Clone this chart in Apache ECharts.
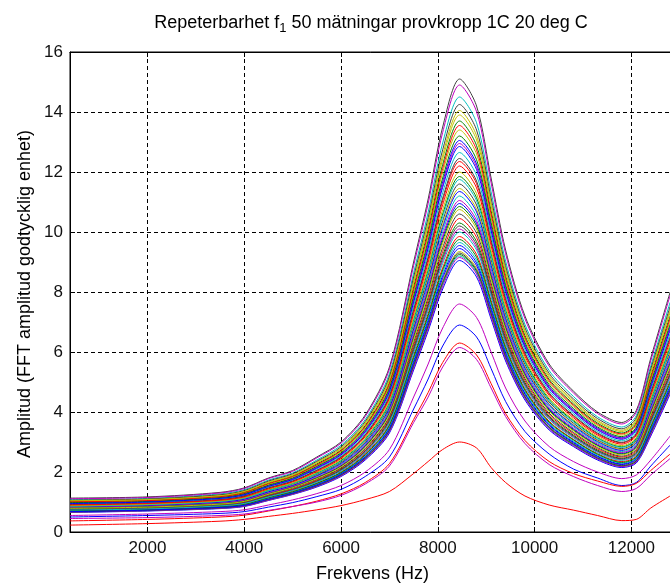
<!DOCTYPE html>
<html>
<head>
<meta charset="utf-8">
<script src="https://cdn.jsdelivr.net/npm/echarts@6/dist/echarts.min.js"></script>
<style>
  html, body { margin: 0; padding: 0; background: #fff; }
  #chart { width: 670px; height: 583px; }
</style>
</head>
<body>
<div id="chart"></div>
<script>
const freq = [400, 2000, 3500, 4000, 4500, 5000, 5500, 6000, 6500, 7000, 7500, 7800, 8100, 8450, 8800, 9100, 9400, 9800, 10300, 10800, 11300, 11800, 12100, 12400, 12800];

// 50 measurements, in plotting order (colour follows the MATLAB colour order)
const m01 = [0.97,1.01,1.14,1.26,1.55,1.78,2.16,2.61,3.39,4.75,7.78,9.61,11.67,13.05,12.27,10.21,8.15,6.25,4.85,4.07,3.46,3.14,3.46,4.92,6.85];
const m02 = [0.87,0.92,1.03,1.14,1.40,1.62,1.96,2.38,3.09,4.32,7.07,8.74,10.60,11.85,11.14,9.28,7.41,5.70,4.42,3.71,3.14,2.84,3.11,4.40,6.17];
const m03 = [0.23,0.28,0.36,0.42,0.52,0.62,0.74,0.88,1.08,1.35,1.95,2.35,2.75,3.0,2.8,2.15,1.65,1.2,0.9,0.73,0.55,0.38,0.42,0.8,1.2];
const m04 = [0.82,0.87,0.97,1.07,1.32,1.53,1.86,2.26,2.93,4.08,6.68,8.26,10.02,11.2,10.52,8.77,7.01,5.39,4.18,3.51,2.97,2.68,2.92,4.12,5.81];
const m05 = [0.96,1.00,1.13,1.25,1.53,1.77,2.15,2.59,3.37,4.72,7.72,9.54,11.58,12.95,12.18,10.13,8.09,6.21,4.82,4.04,3.43,3.12,3.43,4.88,6.79];
const m06 = [1.00,1.04,1.17,1.30,1.59,1.83,2.22,2.68,3.48,4.88,7.99,9.86,11.98,13.4,12.60,10.48,8.36,6.41,4.98,4.18,3.55,3.23,3.56,5.07,7.04];
const m07 = [0.85,0.90,1.01,1.11,1.37,1.59,1.92,2.33,3.03,4.23,6.92,8.55,10.37,11.6,10.90,9.08,7.26,5.58,4.33,3.63,3.07,2.78,3.04,4.30,6.03];
const m08 = [0.69,0.74,0.83,0.90,1.11,1.32,1.58,1.95,2.52,3.48,5.70,7.07,8.55,9.55,8.97,7.49,6.01,4.63,3.58,3.00,2.53,2.27,2.45,3.42,4.88];
const m09 = [1.02,1.06,1.20,1.33,1.63,1.87,2.27,2.73,3.55,4.99,8.17,10.08,12.25,13.7,12.88,10.71,8.55,6.55,5.09,4.27,3.63,3.30,3.65,5.20,7.21];
const m10 = [0.91,0.96,1.07,1.19,1.46,1.69,2.05,2.48,3.22,4.50,7.36,9.10,11.04,12.35,11.61,9.66,7.72,5.93,4.60,3.86,3.27,2.97,3.25,4.62,6.45];
const m11 = [1.08,1.12,1.27,1.41,1.73,1.97,2.40,2.89,3.75,5.28,8.64,10.66,12.97,14.5,13.64,11.34,9.03,6.92,5.38,4.52,3.84,3.5,3.88,5.54,7.66];
const m12 = [0.55,0.6,0.68,0.74,0.9,1.07,1.28,1.55,2.0,2.75,4.5,5.6,6.8,7.6,7.15,6.0,4.8,3.7,2.85,2.35,2.0,1.78,1.9,2.4,3.2];
const m13 = [0.84,0.89,0.99,1.10,1.35,1.57,1.90,2.31,3.00,4.17,6.83,8.45,10.24,11.45,10.76,8.97,7.17,5.51,4.27,3.58,3.04,2.75,3.00,4.23,5.95];
const m14 = [1.13,1.17,1.32,1.47,1.8,2.05,2.5,3.0,3.9,5.5,9.0,11.1,13.5,15.1,14.2,11.8,9.4,7.2,5.6,4.7,4.0,3.65,4.05,5.8,8.0];
const m15 = [0.83,0.88,0.99,1.09,1.34,1.55,1.88,2.29,2.97,4.14,6.77,8.37,10.15,11.35,10.67,8.89,7.11,5.46,4.24,3.55,3.01,2.72,2.97,4.19,5.89];
const m16 = [0.75,0.80,0.89,0.98,1.21,1.42,1.71,2.09,2.71,3.76,6.15,7.61,9.22,10.3,9.68,8.07,6.47,4.98,3.86,3.23,2.73,2.46,2.66,3.74,5.30];
const m17 = [0.76,0.81,0.91,0.99,1.22,1.43,1.73,2.12,2.75,3.81,6.23,7.72,9.35,10.45,9.82,8.19,6.55,5.05,3.91,3.28,2.77,2.50,2.70,3.80,5.39];
const m18 = [0.70,0.75,0.83,0.91,1.12,1.33,1.60,1.96,2.55,3.52,5.76,7.14,8.64,9.65,9.06,7.57,6.07,4.68,3.62,3.03,2.56,2.30,2.47,3.46,4.94];
const m19 = [1.11,1.15,1.30,1.45,1.78,2.02,2.47,2.96,3.85,5.43,8.88,10.95,13.32,14.9,14.01,11.64,9.28,7.11,5.53,4.64,3.95,3.6,3.99,5.71,7.89];
const m20 = [1.05,1.09,1.23,1.36,1.67,1.91,2.33,2.80,3.64,5.12,8.37,10.33,12.56,14.05,13.21,10.98,8.76,6.71,5.22,4.38,3.72,3.39,3.75,5.35,7.41];
const m21 = [0.77,0.82,0.92,1.01,1.24,1.46,1.76,2.14,2.78,3.86,6.32,7.83,9.48,10.6,9.96,8.30,6.65,5.12,3.96,3.32,2.81,2.53,2.75,3.87,5.47];
const m22 = [0.5,0.55,0.62,0.68,0.83,0.98,1.18,1.42,1.85,2.5,4.1,5.1,6.2,6.9,6.5,5.45,4.35,3.35,2.6,2.1,1.8,1.55,1.65,2.2,2.9];
const m23 = [0.98,1.02,1.15,1.28,1.56,1.80,2.19,2.64,3.43,4.81,7.87,9.72,11.80,13.2,12.41,10.32,8.24,6.32,4.91,4.12,3.50,3.18,3.50,4.98,6.93];
const m24 = [1.01,1.05,1.18,1.31,1.61,1.85,2.24,2.71,3.52,4.94,8.08,9.97,12.12,13.55,12.74,10.60,8.45,6.48,5.04,4.23,3.59,3.27,3.60,5.13,7.13];
const m25 = [0.94,0.98,1.10,1.22,1.50,1.73,2.10,2.53,3.29,4.61,7.54,9.32,11.31,12.65,11.89,9.90,7.90,6.07,4.71,3.95,3.35,3.04,3.34,4.75,6.62];
const m26 = [0.73,0.78,0.87,0.96,1.18,1.39,1.67,2.05,2.66,3.68,6.03,7.47,9.04,10.1,9.49,7.92,6.34,4.89,3.78,3.17,2.68,2.41,2.60,3.65,5.19];
const m27 = [0.67,0.72,0.81,0.88,1.09,1.29,1.55,1.91,2.48,3.41,5.58,6.92,8.37,9.35,8.79,7.34,5.89,4.54,3.51,2.94,2.48,2.23,2.39,3.33,4.77];
const m28 = [0.92,0.96,1.08,1.20,1.47,1.70,2.06,2.50,3.24,4.54,7.42,9.17,11.13,12.45,11.70,9.74,7.78,5.97,4.64,3.89,3.30,2.99,3.28,4.66,6.51];
const m29 = [0.80,0.85,0.95,1.05,1.29,1.50,1.81,2.21,2.87,3.99,6.53,8.08,9.80,10.95,10.29,8.58,6.86,5.28,4.09,3.43,2.90,2.62,2.85,4.02,5.67];
const m30 = [0.67,0.72,0.80,0.87,1.07,1.28,1.53,1.89,2.45,3.37,5.52,6.85,8.28,9.25,8.69,7.26,5.82,4.49,3.47,2.91,2.45,2.20,2.36,3.29,4.71];
const m31 = [0.37,0.42,0.5,0.56,0.7,0.85,1.03,1.27,1.65,2.28,3.75,4.65,5.65,6.3,5.9,4.95,3.95,3.05,2.35,1.95,1.7,1.52,1.62,2.05,2.6];
const m32 = [0.86,0.91,1.02,1.13,1.38,1.61,1.95,2.36,3.07,4.28,7.01,8.66,10.51,11.75,11.04,9.20,7.35,5.65,4.38,3.68,3.11,2.82,3.08,4.36,6.12];
const m33 = [0.81,0.86,0.96,1.06,1.30,1.52,1.83,2.23,2.90,4.03,6.59,8.16,9.89,11.05,10.39,8.66,6.93,5.33,4.13,3.46,2.93,2.65,2.88,4.06,5.73];
const m34 = [0.88,0.93,1.04,1.15,1.42,1.64,1.99,2.41,3.13,4.37,7.16,8.85,10.74,12.0,11.28,9.39,7.51,5.77,4.47,3.75,3.18,2.88,3.15,4.47,6.26];
const m35 = [0.74,0.79,0.88,0.97,1.19,1.40,1.69,2.07,2.69,3.72,6.08,7.54,9.13,10.2,9.58,7.99,6.40,4.93,3.82,3.20,2.70,2.44,2.63,3.69,5.25];
const m36 = [0.65,0.70,0.78,0.85,1.05,1.25,1.5,1.85,2.4,3.3,5.4,6.7,8.1,9.05,8.5,7.1,5.7,4.4,3.4,2.85,2.4,2.15,2.3,3.2,4.6];
const m37 = [0.79,0.84,0.94,1.03,1.27,1.49,1.80,2.19,2.85,3.96,6.47,8.01,9.71,10.85,10.20,8.50,6.80,5.23,4.06,3.40,2.88,2.60,2.82,3.98,5.61];
const m38 = [0.71,0.76,0.85,0.93,1.15,1.36,1.63,2.00,2.60,3.59,5.88,7.28,8.81,9.85,9.25,7.72,6.19,4.77,3.69,3.09,2.61,2.35,2.53,3.54,5.05];
const m39 = [0.66,0.71,0.79,0.87,1.07,1.27,1.53,1.88,2.44,3.36,5.49,6.81,8.24,9.2,8.64,7.22,5.79,4.47,3.46,2.90,2.44,2.19,2.34,3.27,4.69];
const m40 = [0.45,0.48,0.55,0.6,0.72,0.85,1.0,1.22,1.6,2.2,3.65,4.5,5.5,6.15,5.75,4.8,3.85,2.95,2.25,1.85,1.55,1.35,1.45,1.9,2.45];
const m41 = [0.79,0.83,0.93,1.02,1.26,1.48,1.78,2.17,2.82,3.92,6.41,7.94,9.62,10.75,10.10,8.42,6.74,5.19,4.02,3.37,2.85,2.57,2.79,3.93,5.56];
const m42 = [1.06,1.10,1.24,1.38,1.70,1.94,2.36,2.84,3.69,5.19,8.50,10.48,12.74,14.25,13.40,11.14,8.88,6.81,5.29,4.44,3.78,3.44,3.81,5.44,7.52];
const m43 = [0.95,1.00,1.12,1.24,1.52,1.75,2.13,2.57,3.34,4.68,7.66,9.46,11.49,12.85,12.08,10.05,8.02,6.16,4.78,4.01,3.40,3.09,3.40,4.83,6.74];
const m44 = [0.71,0.75,0.84,0.92,1.14,1.34,1.62,1.98,2.57,3.56,5.82,7.21,8.73,9.75,9.16,7.65,6.13,4.73,3.66,3.07,2.59,2.32,2.50,3.50,4.99];
const m45 = [0.90,0.95,1.06,1.17,1.44,1.67,2.02,2.45,3.18,4.45,7.28,8.99,10.91,12.2,11.47,9.55,7.63,5.86,4.55,3.81,3.23,2.93,3.21,4.55,6.37];
const m46 = [0.73,0.77,0.87,0.95,1.17,1.38,1.66,2.03,2.64,3.65,5.97,7.39,8.95,10.0,9.40,7.84,6.28,4.84,3.75,3.14,2.65,2.39,2.58,3.61,5.13];
const m47 = [0.66,0.71,0.79,0.86,1.06,1.26,1.52,1.87,2.43,3.34,5.46,6.78,8.19,9.15,8.60,7.18,5.76,4.45,3.44,2.88,2.43,2.18,2.33,3.24,4.66];
const m48 = [1.04,1.08,1.21,1.35,1.65,1.89,2.30,2.77,3.60,5.06,8.29,10.23,12.43,13.9,13.07,10.87,8.67,6.65,5.16,4.33,3.68,3.35,3.70,5.29,7.33];
const m49 = [0.67,0.72,0.80,0.88,1.08,1.28,1.54,1.90,2.46,3.39,5.55,6.88,8.32,9.3,8.73,7.29,5.85,4.51,3.49,2.93,2.47,2.21,2.37,3.31,4.74];
const m50 = [0.68,0.73,0.82,0.89,1.10,1.30,1.57,1.93,2.50,3.45,5.64,6.99,8.46,9.45,8.88,7.41,5.94,4.59,3.55,2.97,2.51,2.25,2.42,3.37,4.82];

const measurements = [m01, m02, m03, m04, m05, m06, m07, m08, m09, m10,
  m11, m12, m13, m14, m15, m16, m17, m18, m19, m20,
  m21, m22, m23, m24, m25, m26, m27, m28, m29, m30,
  m31, m32, m33, m34, m35, m36, m37, m38, m39, m40,
  m41, m42, m43, m44, m45, m46, m47, m48, m49, m50];

const xTicks = [2000, 4000, 6000, 8000, 10000, 12000];

// MATLAB 7 default line colour order
const colorOrder = ['#0000ff', '#008000', '#ff0000', '#00bfbf', '#bf00bf', '#bfbf00', '#404040'];

const font = 'Liberation Sans';
const yTitle = 'Amplitud (FFT amplitud godtycklig enhet)';
const chart = echarts.init(document.getElementById('chart'));

chart.setOption({
  animation: false,
  backgroundColor: '#fff',
  color: colorOrder,
  title: {
    text: '{a|Repeterbarhet f}{s|1}{a| 50 mätningar provkropp 1C 20 deg C}',
    left: 371,
    top: 13,
    textAlign: 'center',
    padding: 0,
    textStyle: {
      fontFamily: font,
      fontWeight: 'normal',
      color: '#000',
      rich: {
        a: { fontFamily: font, fontSize: 18, lineHeight: 20, color: '#000' },
        s: { fontFamily: font, fontSize: 13, lineHeight: 13, padding: [11, 0, 0, 0], color: '#000' }
      }
    }
  },
  // y-axis title as a rotated text
  graphic: [{
    type: 'text',
    x: 25,
    y: 294,
    rotation: Math.PI / 2,
    silent: true,
    style: {
      text: yTitle,
      font: '18px "Liberation Sans"',
      fill: '#000',
      align: 'center',
      verticalAlign: 'middle'
    }
  }],
  grid: {
    left: 70,
    right: -5,
    top: 52,
    bottom: 51,
    outerBoundsMode: 'none',
    containLabel: false,
    show: true,
    borderColor: '#000',
    borderWidth: 1
  },
  xAxis: [
    {
      type: 'value',
      position: 'bottom',
      min: 400,
      max: 12900,
      name: 'Frekvens (Hz)',
      nameLocation: 'middle',
      nameGap: 33,
      nameTextStyle: { fontFamily: font, fontSize: 18, color: '#000' },
      axisLine: { show: true, lineStyle: { color: '#000', width: 1 } },
      axisTick: { show: true, inside: true, length: 5, customValues: xTicks, lineStyle: { color: '#000' } },
      axisLabel: {
        customValues: xTicks,
        formatter: (v) => String(v),
        fontFamily: font, fontSize: 17, color: '#111', margin: 8
      },
      splitLine: { show: true, lineStyle: { color: '#000', type: [4, 3], width: 1 } }
    },
    {
      type: 'value',
      position: 'top',
      min: 400,
      max: 12900,
      axisLine: { show: true, lineStyle: { color: '#000', width: 1 } },
      axisTick: { show: true, inside: true, length: 5, customValues: xTicks, lineStyle: { color: '#000' } },
      axisLabel: { show: false },
      splitLine: { show: false }
    }
  ],
  yAxis: {
    type: 'value',
    min: 0,
    max: 16,
    interval: 2,
    axisLine: { show: true, lineStyle: { color: '#000', width: 1 } },
    axisTick: { show: true, inside: true, length: 5, lineStyle: { color: '#000' } },
    axisLabel: { fontFamily: font, fontSize: 17, color: '#111', margin: 7 },
    splitLine: { show: true, lineStyle: { color: '#000', type: [4, 3], width: 1 } }
  },
  series: measurements.map((vals, i) => ({
    name: 'mätning ' + (i + 1),
    type: 'line',
    xAxisIndex: 0,
    data: freq.map((f, j) => [f, vals[j]]),
    symbol: 'none',
    smooth: 0.3,
    silent: true,
    lineStyle: { width: 1 }
  }))
});
</script>
</body>
</html>
